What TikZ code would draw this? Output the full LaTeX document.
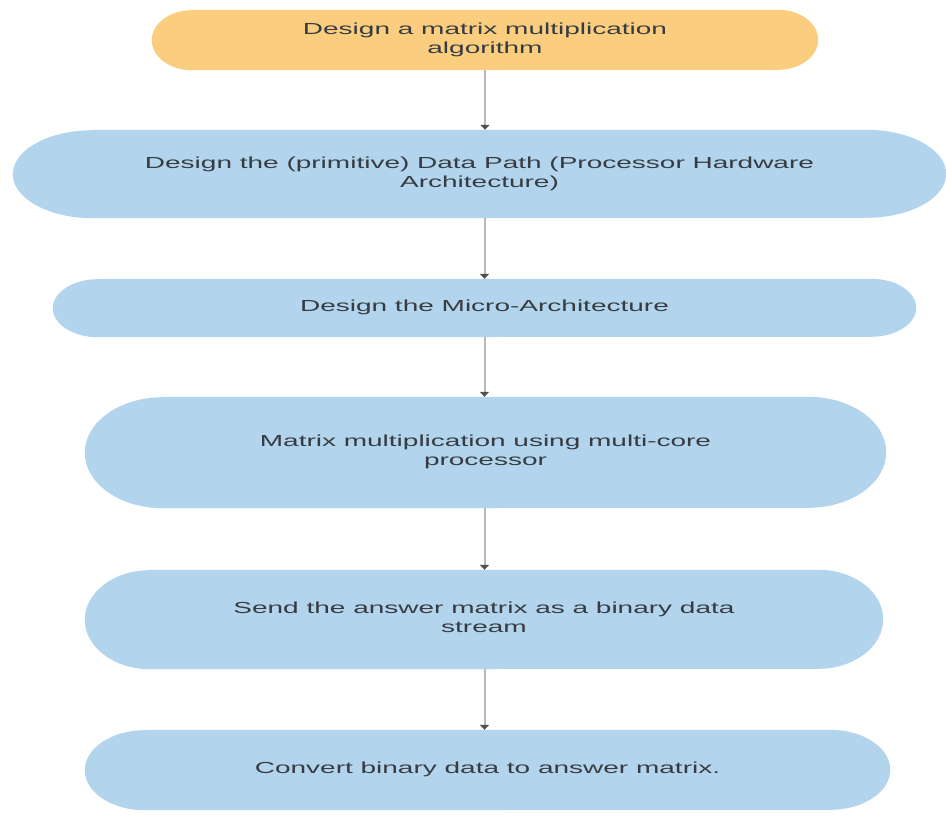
\documentclass[tikz,border=0pt]{standalone}
\usepackage{fontspec}
\setmainfont{Liberation Sans}
\usepackage{graphicx}
\usetikzlibrary{arrows.meta,backgrounds}

\definecolor{startfill}{RGB}{250,206,126}
\definecolor{stepfill}{RGB}{178,212,237}
\definecolor{steptext}{RGB}{55,60,66}
\definecolor{flowline}{RGB}{185,185,185}
\definecolor{flowtip}{RGB}{80,80,80}

% wide, horizontally stretched label text
\newcommand\widelabel[1]{\scalebox{1.75}[1]{\begin{tabular}{@{}c@{}}#1\end{tabular}}}
% capsule fill behind a node: node, x radius, y radius, colour
\newcommand\capsule[4]{%
  \fill[#4] ([xshift=#2]#1.north west) -- ([xshift=-#2]#1.north east)
    arc[start angle=90,end angle=-90,x radius=#2,y radius=#3]
    -- ([xshift=#2]#1.south west)
    arc[start angle=270,end angle=90,x radius=#2,y radius=#3] -- cycle;}

\tikzset{
  stepbox/.style={inner sep=0pt, text=steptext,
    font=\fontsize{16}{19}\selectfont},
  flow/.style={draw=flowline, line width=2pt,
    -{Triangle[length=5pt,width=9pt,color=flowtip]}}
}

\begin{document}
\begin{tikzpicture}[x=1pt,y=-1pt]
\useasboundingbox (0,0) rectangle (946,815);

\node[stepbox, minimum width=666pt, minimum height=60pt] (b1) at (485,40)
  {\widelabel{Design a matrix multiplication\\algorithm}};
\node[stepbox, minimum width=933pt, minimum height=88pt] (b2) at (479.5,174)
  {\widelabel{Design the (primitive) Data Path (Processor Hardware\\Architecture)}};
\node[stepbox, minimum width=863pt, minimum height=58pt] (b3) at (484.5,308)
  {\widelabel{Design the Micro-Architecture}};
\node[stepbox, minimum width=801pt, minimum height=111pt] (b4) at (485.5,452.5)
  {\widelabel{Matrix multiplication using multi-core\\processor}};
\node[stepbox, minimum width=798pt, minimum height=99pt] (b5) at (484,619.5)
  {\widelabel{Send the answer matrix as a binary data\\stream}};
\node[stepbox, minimum width=805pt, minimum height=80pt] (b6) at (487.5,770)
  {\widelabel{Convert binary data to answer matrix.}};

\begin{scope}[on background layer]
  \fill[white] (0,0) rectangle (946,815);
  \capsule{b1}{40pt}{30pt}{startfill}
  \capsule{b2}{80pt}{44pt}{stepfill}
  \capsule{b3}{45pt}{29pt}{stepfill}
  \capsule{b4}{78pt}{55.5pt}{stepfill}
  \capsule{b5}{65pt}{49.5pt}{stepfill}
  \capsule{b6}{60pt}{40pt}{stepfill}
\end{scope}

\draw[flow] (b1.south) -- (b1.south |- b2.north);
\draw[flow] (b3.north |- b2.south) -- (b3.north);
\draw[flow] (b3.south) -- (b3.south |- b4.north);
\draw[flow] (b4.south -| b3.south) -- (b3.south |- b5.north);
\draw[flow] (b3.south |- b5.south) -- (b3.south |- b6.north);
\end{tikzpicture}
\end{document}
